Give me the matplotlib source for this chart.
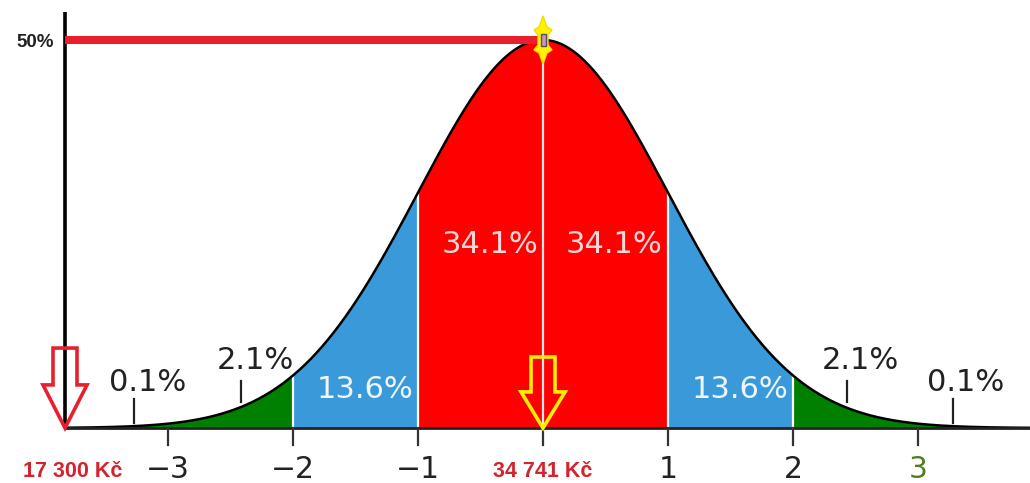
import numpy as np
import matplotlib
matplotlib.use('Agg')
import matplotlib.pyplot as plt
from matplotlib.patches import Polygon

# ---------------- data ----------------
sigma_ticks = [-3, -2, -1, 0, 1, 2, 3]
tick_labels = ['−3', '−2', '−1', '', '1', '2', '3']
tick_colors = ['#222222', '#222222', '#222222', '#222222', '#222222', '#222222', '#4f7d1f']

band_edges = [-3.9, -2, -1, 0, 1, 2, 3.9]
band_colors = ['#008000', '#3a9ad9', '#ff0000', '#ff0000', '#3a9ad9', '#008000']

pct_labels = ['0.1%', '2.1%', '13.6%', '34.1%', '34.1%', '13.6%', '2.1%', '0.1%']
pct_x = [-3.16, -2.30, -1.42, -0.42, 0.57, 1.58, 2.54, 3.38]
pct_y = [0.116, 0.175, 0.098, 0.472, 0.472, 0.098, 0.175, 0.116]
pct_colors = ['#222222', '#222222', '#eef6ff', '#f6d6d6', '#f6d6d6', '#eef6ff', '#222222', '#222222']

small_tick_x = [-3.27, -2.42, 2.43, 3.28]
small_tick_lo = [0.013, 0.067, 0.067, 0.013]
small_tick_hi = [0.075, 0.121, 0.121, 0.075]

salary_min = '17 300 Kč'
salary_median = '34 741 Kč'
peak_label = '50%'
min_pos = -3.824        # position of the minimum salary (sigma units)
peak_value = 1.0        # relative height of the peak

# ---------------- figure ----------------
fig = plt.figure(figsize=(10.30, 4.83), dpi=100)
ax = fig.add_axes([0, 0, 1, 1])
ax.set_xlim(-4.344, 3.896)
ax.set_ylim(-0.1418, 1.103)
ax.axis('off')

PX = 1 / 125.0   # one pixel in x data units
PY = 1 / 388.0   # one pixel in y data units

def curve(x):
    return peak_value * np.exp(-np.asarray(x) ** 2 / 2)

# bands
for lo, hi, c in zip(band_edges[:-1], band_edges[1:], band_colors):
    xs = np.linspace(max(lo, min_pos), hi, 300)
    ax.fill_between(xs, 0, curve(xs), color=c, lw=0, zorder=1)

# white dividers
for e in band_edges[1:-1]:
    col = '#e6e6e6' if e == 0 else 'white'
    ax.plot([e, e], [0, curve(e)], color=col, lw=1.6, zorder=2)

# curve outline
xs = np.linspace(min_pos, 3.9, 1000)
ax.plot(xs, curve(xs), color='black', lw=1.8, zorder=3)

# axis baseline and ticks
ax.plot([min_pos, 3.9], [0, 0], color='#222222', lw=2, zorder=3, solid_capstyle='butt')
for t, lab, c in zip(sigma_ticks, tick_labels, tick_colors):
    ax.plot([t, t], [0, -17 * PY], color='#333333', lw=1.6, zorder=3)
    if lab:
        ax.text(t, -0.130, lab, ha='center', va='baseline', fontsize=21.5,
                color=c, family='DejaVu Sans')

# small ticks above axis
for x, lo, hi in zip(small_tick_x, small_tick_lo, small_tick_hi):
    ax.plot([x, x], [lo, hi], color='#222222', lw=1.6, zorder=3)

# percent labels
for x, y, lab, c in zip(pct_x, pct_y, pct_labels, pct_colors):
    ax.text(x, y, lab, ha='center', va='center', fontsize=22, color=c,
            family='DejaVu Sans', zorder=4)

# left black vertical line and red horizontal line at peak
ax.plot([min_pos, min_pos], [0, 1.072], color='black', lw=2.6, zorder=4,
        solid_capstyle='butt')
ax.plot([min_pos, 0], [peak_value, peak_value], color='#e8202e', lw=5.8,
        zorder=4, solid_capstyle='butt')
ax.text(min_pos - 11 * PX, peak_value - 3 * PY, peak_label, ha='right',
        va='center', fontsize=13.5, fontweight='bold', color='#222222',
        family=['Liberation Sans Narrow', 'Liberation Sans'])

# hollow arrows
def hollow_arrow(xc, top, head, body_w, head_w, color):
    pts = [(xc - body_w / 2 * PX, top), (xc + body_w / 2 * PX, top),
           (xc + body_w / 2 * PX, head), (xc + head_w / 2 * PX, head),
           (xc, 0), (xc - head_w / 2 * PX, head),
           (xc - body_w / 2 * PX, head)]
    ax.add_patch(Polygon(pts, closed=True, fill=False, edgecolor=color,
                         lw=2.6, joinstyle='miter', zorder=5))

hollow_arrow(min_pos, 0.206, 0.111, 24, 44, '#e8202e')
hollow_arrow(0, 0.183, 0.093, 24, 44, '#ffee00')

# yellow star-like marker at the peak
mk = [(0, 24), (4, 13), (9, 10), (5, 5), (5, -5), (9, -10), (4, -13), (0, -24),
      (-4, -13), (-9, -10), (-5, -5), (-5, 5), (-9, 10), (-4, 13)]
ax.add_patch(Polygon([(dx * PX, peak_value + dy * PY) for dx, dy in mk],
                     closed=True, facecolor='#fff200', edgecolor='#ece000',
                     lw=1, zorder=6))
ax.add_patch(Polygon([(dx * PX, peak_value + dy * PY) for dx, dy in
                      [(-2.5, -6), (2.5, -6), (2.5, 6), (-2.5, 6)]],
                     closed=True, facecolor='#c89ab0', edgecolor='#5a4a6a',
                     lw=1, zorder=7))

# salary labels
for x, lab in [(min_pos, salary_min), (0, salary_median)]:
    ax.text(x + (8 * PX if x == min_pos else 0), -0.126, lab, ha='center',
            va='baseline', fontsize=15.5, fontweight='bold', color='#d2232f',
            family=['Liberation Sans Narrow', 'Liberation Sans'])

fig.savefig('out.png', dpi=100)
